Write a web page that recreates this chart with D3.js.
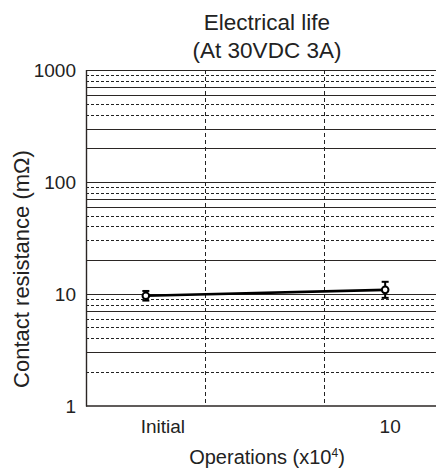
<!DOCTYPE html>
<html>
<head>
<meta charset="utf-8">
<script src="https://cdn.jsdelivr.net/npm/d3@7"></script>
<style>
  html, body { margin: 0; padding: 0; background: #fff; }
  svg { display: block; font-family: "Liberation Sans", Arial, sans-serif; }
</style>
</head>
<body>
<svg id="chart" width="436" height="470"></svg>
<script>
// ---- data ----
const categories = ["Initial", "", "10"];
const pointCats = ["Initial", "10"];
const meanValues = [9.6, 10.85];
const minValues = [8.7, 9.2];
const maxValues = [10.6, 12.8];
const yTickValues = [1, 10, 100, 1000];
const yTickLabels = ["1", "10", "100", "1000"];
const solidGrid = [3, 7, 10, 20, 60, 70, 100, 200, 300, 600, 700, 1000];
const dashedGrid = [2, 4, 5, 6, 8, 9, 30, 40, 50, 80, 90, 400, 500, 800, 900];
const titleLines = ["Electrical life", "(At 30VDC 3A)"];
const xTitle = "Operations (x10";
const xTitleSup = "4";
const yTitle = "Contact resistance (mΩ)";

// ---- layout ----
const svg = d3.select("#chart");
const pLeft = 86, pRight = 445, pTop = 70, pBottom = 405.7;
const ink = "#2b2624";

const x = d3.scaleBand().domain(categories).range([pLeft, pRight]).paddingInner(0).paddingOuter(0);
const y = d3.scaleLog().domain([1, 1000]).range([pBottom, pTop]);

// horizontal grid
svg.append("g").selectAll("line").data(dashedGrid).join("line")
  .attr("x1", pLeft).attr("x2", pRight)
  .attr("y1", d => Math.round(y(d)) + 0.5).attr("y2", d => Math.round(y(d)) + 0.5)
  .attr("stroke", "#222").attr("stroke-width", 1).attr("stroke-dasharray", "3,2");
svg.append("g").selectAll("line").data(solidGrid).join("line")
  .attr("x1", pLeft).attr("x2", pRight)
  .attr("y1", d => Math.round(y(d)) + 0.5).attr("y2", d => Math.round(y(d)) + 0.5)
  .attr("stroke", ink).attr("stroke-width", 1.1);

// vertical dashed grid at band boundaries
const vBounds = categories.slice(1).map(c => x(c));
svg.append("g").selectAll("line").data(vBounds).join("line")
  .attr("x1", d => Math.round(d) - 0.5).attr("x2", d => Math.round(d) - 0.5)
  .attr("y1", pTop).attr("y2", pBottom)
  .attr("stroke", "#222").attr("stroke-width", 1).attr("stroke-dasharray", "4,3");

// axes lines
svg.append("line").attr("x1", pLeft + 0.5).attr("x2", pLeft + 0.5).attr("y1", pTop).attr("y2", pBottom + 0.7)
  .attr("stroke", ink).attr("stroke-width", 1.4);
svg.append("line").attr("x1", pLeft).attr("x2", pRight).attr("y1", pBottom + 0.3).attr("y2", pBottom + 0.3)
  .attr("stroke", ink).attr("stroke-width", 1.4);

// y axis labels
const yAxis = d3.axisLeft(y).tickValues(yTickValues)
  .tickFormat((d, i) => yTickLabels[i]).tickSize(0).tickPadding(10);
const gy = svg.append("g").attr("transform", `translate(${pLeft},0)`).call(yAxis);
gy.select(".domain").remove();
gy.selectAll("text").attr("font-size", 19).attr("fill", "#222")
  .attr("font-family", "Liberation Sans, Arial, sans-serif").attr("dy", "0.36em");

// x axis labels
const labelNudge = { "Initial": 17, "10": 5 };
const xAxis = d3.axisBottom(x).tickValues(pointCats).tickSize(0).tickPadding(0);
const gx = svg.append("g").attr("transform", `translate(0,${pBottom})`).call(xAxis);
gx.select(".domain").remove();
gx.selectAll("text").attr("font-size", 19).attr("fill", "#222")
  .attr("font-family", "Liberation Sans, Arial, sans-serif")
  .attr("dy", null).attr("y", 27.5)
  .attr("dx", d => labelNudge[d]);

// titles
svg.append("text").attr("x", 267).attr("y", 30).attr("text-anchor", "middle")
  .attr("font-size", 22.5).attr("fill", "#222").text(titleLines[0]);
svg.append("text").attr("x", 267).attr("y", 58).attr("text-anchor", "middle")
  .attr("font-size", 22.5).attr("fill", "#222").text(titleLines[1]);

const xt = svg.append("text").attr("x", 267).attr("y", 464).attr("text-anchor", "middle")
  .attr("font-size", 20).attr("fill", "#222");
xt.append("tspan").text(xTitle);
xt.append("tspan").attr("font-size", 12).attr("dy", -7).text(xTitleSup);
xt.append("tspan").attr("dy", 7).text(")");

svg.append("text").attr("transform", `translate(29,269) rotate(-90)`)
  .attr("text-anchor", "middle").attr("font-size", 22).attr("fill", "#222").text(yTitle);

// series
const pts = pointCats.map((c, i) => ({
  cx: x(c) + x.bandwidth() / 2, v: meanValues[i], lo: minValues[i], hi: maxValues[i]
}));
const line = d3.line().x(d => d.cx).y(d => y(d.v));
svg.append("path").datum(pts).attr("d", line)
  .attr("fill", "none").attr("stroke", "#000").attr("stroke-width", 2.6);

const eb = svg.append("g").attr("stroke", "#000").attr("stroke-width", 2);
pts.forEach(d => {
  eb.append("line").attr("x1", d.cx).attr("x2", d.cx).attr("y1", y(d.hi)).attr("y2", y(d.lo));
  eb.append("line").attr("x1", d.cx - 3.5).attr("x2", d.cx + 3.5).attr("y1", y(d.hi)).attr("y2", y(d.hi));
  eb.append("line").attr("x1", d.cx - 3.5).attr("x2", d.cx + 3.5).attr("y1", y(d.lo)).attr("y2", y(d.lo));
});
svg.append("g").selectAll("circle").data(pts).join("circle")
  .attr("cx", d => d.cx).attr("cy", d => y(d.v)).attr("r", 3.3)
  .attr("fill", "#fff").attr("stroke", "#000").attr("stroke-width", 2);
</script>
</body>
</html>
